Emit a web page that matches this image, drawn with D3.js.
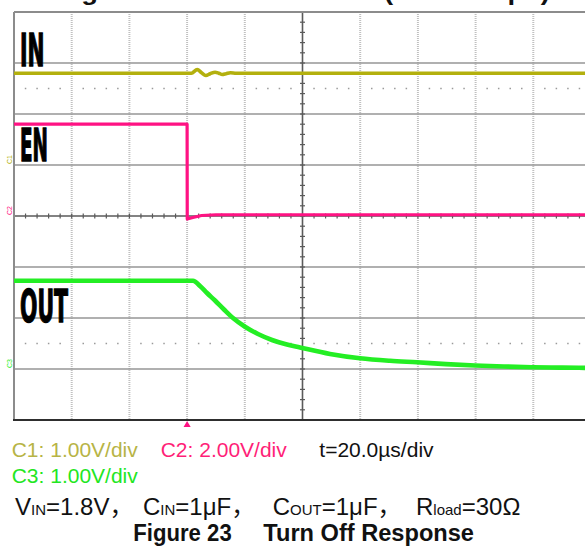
<!DOCTYPE html>
<html>
<head>
<meta charset="utf-8">
<script src="https://cdn.jsdelivr.net/npm/d3@7"></script>
<style>
    body { margin: 0; background: #fff; }
    svg { display: block; }
    .hgrid { stroke: #969696; stroke-width: 1.6; }
    .vgrid { stroke: #c0c0c0; stroke-width: 2; stroke-dasharray: 1,1; }
    .axis-line { stroke: #5a5a5a; stroke-width: 1.6; }
    .tick { stroke: #5a5a5a; stroke-width: 1.2; }
    .dot-row { fill: #9a9a9a; }
    .trace { fill: none; stroke-linejoin: round; stroke-linecap: round; }
    .sig-label { font-family: "Liberation Sans Narrow", "DejaVu Sans Condensed", sans-serif; font-weight: bold; font-size: 44px; fill: #000; stroke: #000; stroke-width: 1.3; }
    .scale-text { font-family: "Liberation Sans", Arial, sans-serif; font-size: 21px; }
    .cond-text { font-family: "Liberation Sans", Arial, sans-serif; font-size: 24px; fill: #111; }
    .fig-text { font-family: "Liberation Sans", Arial, sans-serif; font-size: 23px; font-weight: bold; fill: #111; }
</style>
</head>
<body>
<svg id="svg" width="585" height="549"></svg>
<script>
// time in us, volts per channel
const inPoints = [
    [-60, 1.80], [0, 1.80], [1.5, 1.80], [3.5, 1.87], [5, 1.81], [6.5, 1.755],
    [8, 1.79], [9.7, 1.82], [11, 1.80], [12.2, 1.775], [13.5, 1.79], [15, 1.81],
    [17, 1.80], [140, 1.80]
];
const enPoints = [
    [-60, 3.6], [0, 3.6], [0.05, -0.12], [2, -0.06], [5, 0.02], [10, 0.05], [140, 0.05]
];
const outPoints = [
    [-60, 1.731], [2.05, 1.731], [4.47, 1.627], [6.9, 1.49], [9.67, 1.343],
    [12.79, 1.167], [15.91, 1.0], [20.07, 0.829], [24.58, 0.686], [29.43, 0.569],
    [34.28, 0.484], [39.13, 0.422], [49.53, 0.294], [59.93, 0.21], [70.33, 0.161],
    [79.69, 0.131], [89.74, 0.096], [99.79, 0.069], [109.84, 0.049], [119.9, 0.035],
    [129.95, 0.027], [140, 0.022]
];

// channel settings: volts/div and ground position (in screen divisions from bottom)
const channels = [
    {name: 'C1', data: inPoints, vdiv: 1, ground: 5, color: '#b3b00e', width: 3.6},
    {name: 'C2', data: enPoints, vdiv: 2, ground: 4, color: '#ff1283', width: 3.2},
    {name: 'C3', data: outPoints, vdiv: 1, ground: 1, color: '#24ee24', width: 4.6}
];

const timeDomain = [-60, 140];
const timeDivs = d3.range(-60, 141, 20);
const vertDivs = d3.range(0, 9, 1);
const sigLabels = [
    {text: 'IN', div: 6.95, len: 24.5},
    {text: 'EN', div: 5.08, len: 28},
    {text: 'OUT', div: 1.93, len: 48}
];

const scaleLabels = [
    {text: 'C1: 1.00V/div', color: '#b7b446', row: 0, col: 11.7},
    {text: 'C2: 2.00V/div', color: '#ff1f78', row: 0, col: 160.7},
    {text: 't=20.0\u00b5s/div', color: '#111', row: 0, col: 319.3},
    {text: 'C3: 1.00V/div', color: '#22e622', row: 1, col: 11.7}
];
const conditions = [
    [['V', ''], ['IN', 'sub'], ['=1.8V', ''], ['\uff0c', 'cjk']],
    [['C', ''], ['IN', 'sub'], ['=1\u03bcF', ''], ['\uff0c', 'cjk']],
    [['C', ''], ['OUT', 'sub'], ['=1\u03bcF', ''], ['\uff0c', 'cjk']],
    [['R', ''], ['load', 'sub'], ['=30\u03a9', '']]
];
const conditionX = [15, 143, 272.7, 416];

const margin = {top: 12, left: 14, right: -6, bottom: 129};
const width = 585, height = 549;
const plotW = width - margin.left - margin.right;
const plotH = height - margin.top - margin.bottom;

const svg = d3.select('#svg');

const x = d3.scaleLinear().domain(timeDomain).range([margin.left, margin.left + plotW]);
const yDiv = d3.scaleLinear().domain([0, 8]).range([margin.top + plotH, margin.top]);

svg.append('clipPath')
    .attr('id', 'plot-clip')
  .append('rect')
    .attr('x', margin.left)
    .attr('y', margin.top)
    .attr('width', plotW)
    .attr('height', plotH);

const grid = svg.append('g');

// partially cut title of the figure above
svg.append('text')
    .attr('class', 'fig-text')
    .attr('x', 57)
    .attr('y', 0)
    .attr('textLength', 493)
    .attr('lengthAdjust', 'spacingAndGlyphs')
    .text('Figure 22    Inrush Current (C\u2009OUT=1\u03bcF)');

// vertical dotted division lines
grid.selectAll('.vgrid')
    .data(timeDivs.filter(t => t > timeDomain[0] && t < timeDomain[1] && t !== 40))
  .enter().append('line')
    .attr('class', 'vgrid')
    .attr('x1', d => x(d))
    .attr('x2', d => x(d))
    .attr('y1', yDiv(8))
    .attr('y2', yDiv(0));

// horizontal division lines
grid.selectAll('.hgrid')
    .data(vertDivs.filter(d => d > 0 && d < 8 && d !== 4))
  .enter().append('line')
    .attr('class', 'hgrid')
    .attr('x1', x(timeDomain[0]))
    .attr('x2', x(timeDomain[1]))
    .attr('y1', d => yDiv(d))
    .attr('y2', d => yDiv(d));

// dotted rows at half divisions
[6.5, 1.5].forEach(row => {
    grid.selectAll(null)
        .data(d3.range(timeDomain[0] + 4, timeDomain[1], 4).filter(t => (t + 60) % 20 !== 0))
      .enter().append('rect')
        .attr('class', 'dot-row')
        .attr('x', d => x(d) - 0.75)
        .attr('y', yDiv(row) - 0.75)
        .attr('width', 1.5)
        .attr('height', 1.5);
});

// centre axes with minor ticks
grid.append('line')
    .attr('class', 'axis-line')
    .attr('x1', x(timeDomain[0])).attr('x2', x(timeDomain[1]))
    .attr('y1', yDiv(4)).attr('y2', yDiv(4));
grid.append('line')
    .attr('class', 'axis-line')
    .attr('x1', x(40)).attr('x2', x(40))
    .attr('y1', yDiv(8)).attr('y2', yDiv(0));

grid.selectAll('.xtick')
    .data(d3.range(timeDomain[0] + 4, timeDomain[1], 4))
  .enter().append('line')
    .attr('class', 'tick')
    .attr('x1', d => x(d)).attr('x2', d => x(d))
    .attr('y1', yDiv(4) - 2.5).attr('y2', yDiv(4) + 2.5);
grid.selectAll('.ytick')
    .data(d3.range(0.2, 8, 0.2))
  .enter().append('line')
    .attr('class', 'tick')
    .attr('x1', x(40) - 2.5).attr('x2', x(40) + 2.5)
    .attr('y1', d => yDiv(d)).attr('y2', d => yDiv(d));

// frame
grid.append('line')
    .attr('x1', margin.left).attr('x2', width)
    .attr('y1', yDiv(8)).attr('y2', yDiv(8))
    .attr('stroke', '#8c8c8c').attr('stroke-width', 2);
grid.append('line')
    .attr('x1', margin.left).attr('x2', margin.left)
    .attr('y1', yDiv(8)).attr('y2', yDiv(0))
    .attr('stroke', '#8c8c8c').attr('stroke-width', 2);
grid.append('line')
    .attr('x1', margin.left - 1).attr('x2', width)
    .attr('y1', yDiv(0)).attr('y2', yDiv(0))
    .attr('stroke', '#2e2e2e').attr('stroke-width', 2);

// signal name labels
svg.selectAll('.sig-label')
    .data(sigLabels)
  .enter().append('text')
    .attr('class', 'sig-label')
    .attr('x', 20)
    .attr('y', d => yDiv(d.div))
    .attr('textLength', d => d.len)
    .attr('lengthAdjust', 'spacingAndGlyphs')
    .text(d => d.text);

// traces
const traces = svg.append('g').attr('clip-path', 'url(#plot-clip)');
channels.forEach(ch => {
    const line = d3.line()
        .x(d => x(d[0]))
        .y(d => yDiv(ch.ground + d[1] / ch.vdiv))
        .curve(ch.name === 'C2' ? d3.curveLinear : d3.curveMonotoneX);
    traces.append('path')
        .attr('class', 'trace')
        .attr('stroke', ch.color)
        .attr('stroke-width', ch.width)
        .attr('d', line(ch.data));
});

// channel ground markers
svg.selectAll('.gnd')
    .data(channels)
  .enter().append('text')
    .attr('transform', d => 'translate(12,' + (yDiv(d.ground) - 1) + ') rotate(-90)')
    .attr('font-family', 'Liberation Sans, Arial, sans-serif')
    .attr('font-size', 7)
    .attr('fill', d => d.color)
    .text(d => d.name);

// trigger marker
svg.append('path')
    .attr('d', d3.symbol().type(d3.symbolTriangle).size(22)())
    .attr('transform', 'translate(' + x(0) + ',' + (yDiv(0) + 5) + ')')
    .attr('fill', '#ff1283');

// scale settings
svg.selectAll('.scale-text')
    .data(scaleLabels)
  .enter().append('text')
    .attr('class', 'scale-text')
    .attr('x', d => d.col)
    .attr('y', d => 457.3 + d.row * 26)
    .attr('fill', d => d.color)
    .text(d => d.text);

// test conditions
const cond = svg.append('text')
    .attr('class', 'cond-text')
    .attr('y', 515);
conditions.forEach((parts, i) => {
    parts.forEach((p, j) => {
        const t = cond.append('tspan').text(p[0]);
        if (j === 0) t.attr('x', conditionX[i]);
        if (p[1] === 'sub') t.attr('font-size', 15);
        if (p[1] === 'cjk') t.attr('font-family', '"Noto Sans CJK SC", sans-serif');
    });
});

svg.append('text')
    .attr('class', 'fig-text')
    .attr('x', 133.3)
    .attr('y', 541)
    .attr('textLength', 98.4)
    .attr('lengthAdjust', 'spacingAndGlyphs')
    .text('Figure 23');
svg.append('text')
    .attr('class', 'fig-text')
    .attr('x', 263.3)
    .attr('y', 541)
    .attr('textLength', 210.7)
    .attr('lengthAdjust', 'spacingAndGlyphs')
    .text('Turn Off Response');
</script>
</body>
</html>
